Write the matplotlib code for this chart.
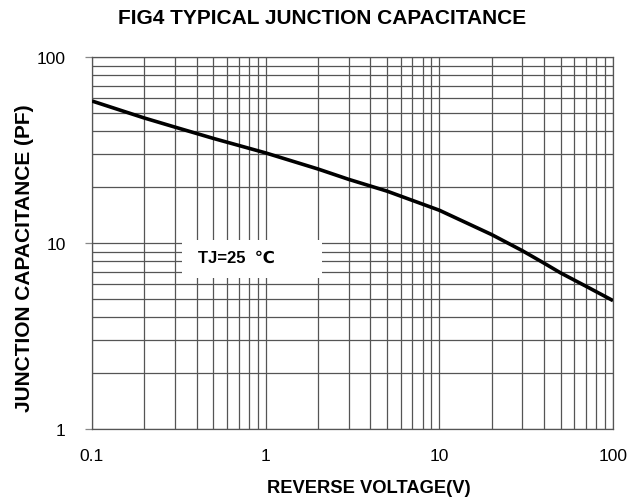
import matplotlib
matplotlib.use("Agg")
import matplotlib.pyplot as plt
from matplotlib.ticker import LogLocator, FixedLocator, NullFormatter, FixedFormatter
from matplotlib.patches import Rectangle

plt.rcParams['font.family'] = ['Liberation Sans', 'DejaVu Sans']

voltage = [0.1, 0.2, 0.3, 0.5, 1, 2, 3, 5, 10, 20, 30, 40, 50, 70, 100]
capacitance = [58, 47, 42, 36.5, 30.5, 25, 22, 19, 15, 11.1, 9.1, 7.8, 6.9, 5.85, 4.9]
x_ticks = [0.1, 1, 10, 100]
x_tick_labels = ["0.1", "1", "10", "100"]
y_ticks = [1, 10, 100]
y_tick_labels = ["1", "10", "100"]

fig = plt.figure(figsize=(6.41, 5.02), dpi=100)
ax = fig.add_axes([92/641, 1-430/502, (613-92)/641, (430-58)/502])

ax.set_xscale('log')
ax.set_yscale('log')
ax.set_xlim(0.1, 100)
ax.set_ylim(1, 100)

gc = '#555555'
ax.xaxis.set_major_locator(FixedLocator(x_ticks))
ax.xaxis.set_major_formatter(FixedFormatter(x_tick_labels))
ax.yaxis.set_major_locator(FixedLocator(y_ticks))
ax.yaxis.set_major_formatter(FixedFormatter(y_tick_labels))
ax.xaxis.set_minor_locator(LogLocator(base=10, subs=range(2, 10)))
ax.yaxis.set_minor_locator(LogLocator(base=10, subs=range(2, 10)))
ax.xaxis.set_minor_formatter(NullFormatter())
ax.yaxis.set_minor_formatter(NullFormatter())
ax.grid(True, which='both', color=gc, linewidth=0.9)
ax.tick_params(which='minor', length=0)
ax.tick_params(axis='x', which='major', length=0, labelsize=12.5, pad=14)
ax.tick_params(axis='y', which='major', length=5, width=0.9, color='#888888',
               labelsize=12.5, pad=14)
for s in ax.spines.values():
    s.set_color(gc)
    s.set_linewidth(0.9)

ax.plot(voltage, capacitance, color='black', linewidth=2.6, zorder=5,
        solid_capstyle='butt', solid_joinstyle='round')

# white box covering grid behind label
ax.add_patch(Rectangle((0.33, 6.5), 2.1 - 0.33, 10.4 - 6.5, facecolor='white',
                       edgecolor='none', zorder=4))
ax.text(0.41, 8.35, "TJ=25  ℃", fontsize=12, fontweight='bold', va='center',
        ha='left', zorder=6)

fig.text(322/641, 1-19/502, "FIG4 TYPICAL JUNCTION CAPACITANCE", ha='center',
         va='center', fontsize=15, fontweight='bold')
fig.text(369/641, 1-489/502, "REVERSE VOLTAGE(V)", ha='center', va='center',
         fontsize=13.2, fontweight='bold')
fig.text(25/641, 1-258/502, "JUNCTION CAPACITANCE (PF)", ha='center', va='center',
         rotation=90, fontsize=15, fontweight='bold')

fig.savefig("out.png", dpi=100)
